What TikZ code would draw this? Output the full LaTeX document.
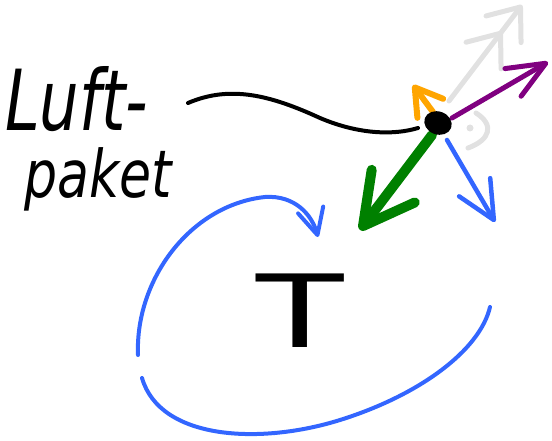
\documentclass[tikz,border=0pt]{standalone}
\usepackage{fontspec}
\newfontfamily\handfont{DejaVu Sans}
\newfontfamily\tfont{Liberation Sans}
\usetikzlibrary{arrows.meta,shapes.geometric}
\definecolor{skblue}{RGB}{51,102,255}
\definecolor{skgreen}{RGB}{0,128,0}
\definecolor{skorange}{RGB}{255,165,0}
\definecolor{skpurple}{RGB}{128,0,128}
\definecolor{skgray}{RGB}{225,225,225}
\tikzset{
  stroke/.style={line cap=round, line join=round},
  tip/.style 2 args={-{Straight Barb[round,length=#1pt,width=#2pt]}},
}
\begin{document}
\begin{tikzpicture}[x=1pt,y=-1pt]
\useasboundingbox (0,0) rectangle (552,441);
% labels
\node[anchor=base west, inner sep=0pt] (luft) at (5,131)
  {\scalebox{0.8}[1.08]{\fontsize{78}{78}\handfont\itshape Luft-}};
\node[anchor=base west, inner sep=0pt] (paket) at (24,198)
  {\scalebox{0.84}[1.06]{\fontsize{62}{62}\handfont\itshape paket}};
\node[anchor=base, inner sep=0pt] (T) at (300,347)
  {\scalebox{1.46}[1]{\fontsize{107}{107}\tfont T}};
\coordinate (wstart) at (188,103);
\coordinate (ogo) at (413,85);
\coordinate (pgo) at (548,62);
\coordinate (ggo) at (522,5);
\coordinate (bgo) at (495,222);
\coordinate (grgo) at (360,230);
% gray (faded)
\draw[stroke, skgray, line width=5pt, -{Straight Barb[round,length=28pt,width=44pt] Straight Barb[round,length=28pt,width=44pt]}]
  (449,101) -- (ggo);
\draw[stroke, skgray, line width=5pt] (476,113) .. controls (495,125) and (490,140) .. (468,148);
\fill[skgray] (470,128) circle (3.5pt);
% black wavy line
\draw[stroke, black, line width=4pt] (wstart) .. controls (230,85) and (270,95) .. (320,118)
  .. controls (360,135) and (395,135) .. (418,128);
% orange
\draw[stroke, skorange, line width=6pt, tip={26}{32}] (433,112) -- (ogo);
% purple
\draw[stroke, skpurple, line width=5pt, tip={38}{32}] (452,118) -- (pgo);
% green
\draw[stroke, skgreen, line width=10pt, tip={50}{54}] (432,135) -- (grgo);
% blue right
\draw[stroke, skblue, line width=4.5pt, tip={38}{36}] (447,140) -- (bgo);
% blue curves
\coordinate (c1) at (138,355);
\coordinate (c1e) at (318,237);
\draw[stroke, skblue, line width=4pt, tip={26}{26}] (c1) .. controls (135,280) and (190,205) .. (265,197)
  .. controls (295,195) and (312,215) .. (c1e);
\coordinate (c2) at (142,378);
\coordinate (c2e) at (490,307);
\draw[stroke, skblue, line width=4pt] (c2) .. controls (160,440) and (260,445) .. (340,420)
  .. controls (420,395) and (480,350) .. (c2e);
% particle
\node[fill=black, ellipse, inner sep=0pt, rotate=-20,
      minimum width=28pt, minimum height=23pt] (p) at (438,123) {};
\end{tikzpicture}
\end{document}
